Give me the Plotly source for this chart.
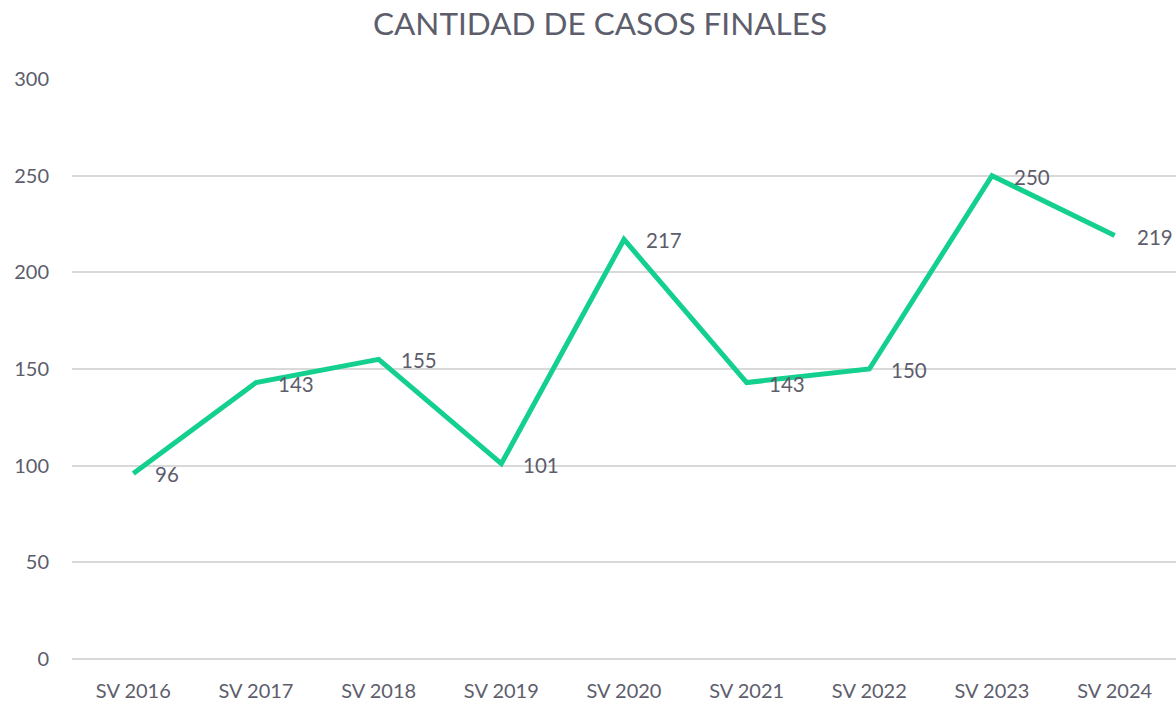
import plotly.graph_objects as go

categories = ["SV 2016", "SV 2017", "SV 2018", "SV 2019", "SV 2020", "SV 2021", "SV 2022", "SV 2023", "SV 2024"]
values = [96, 143, 155, 101, 217, 143, 150, 250, 219]
y_ticks = [0, 50, 100, 150, 200, 250, 300]

text_color = "#5d5d6c"
line_color = "#14d08e"
font_family = "Lato, 'Open Sans', sans-serif"

fig = go.Figure()
fig.add_trace(go.Scatter(
    x=categories, y=values, mode="lines",
    line=dict(color=line_color, width=5),
    hoverinfo="skip", showlegend=False,
))

for c, v in zip(categories, values):
    fig.add_annotation(x=c, y=v, text=str(v), showarrow=False,
                       xanchor="left", yanchor="middle", xshift=20, yshift=-1,
                       font=dict(size=20.5, color=text_color, family=font_family))

fig.update_layout(
    width=1176, height=703,
    margin=dict(l=72, r=0, t=79, b=44),
    paper_bgcolor="white", plot_bgcolor="white",
    title=dict(text="CANTIDAD DE CASOS FINALES", x=600/1176, xref="container", xanchor="center",
               y=1 - 24/703, yref="container", yanchor="middle",
               font=dict(size=31.5, color=text_color, family=font_family)),
    font=dict(family=font_family, color=text_color, size=20),
    xaxis=dict(type="category", range=[-0.5, len(categories) - 0.5], showgrid=False, showline=False,
               zeroline=False, ticks="", tickfont=dict(size=20, color=text_color), ticklabelstandoff=18),
    yaxis=dict(range=[0, 300], tickvals=y_ticks, showgrid=True, gridcolor="#d9d9d9", gridwidth=1.5,
               zeroline=True, zerolinecolor="#d9d9d9", zerolinewidth=1.5,
               showline=False, ticks="", tickfont=dict(size=20, color=text_color),
               ticklabelstandoff=22),
)

fig.write_html("out.html")
